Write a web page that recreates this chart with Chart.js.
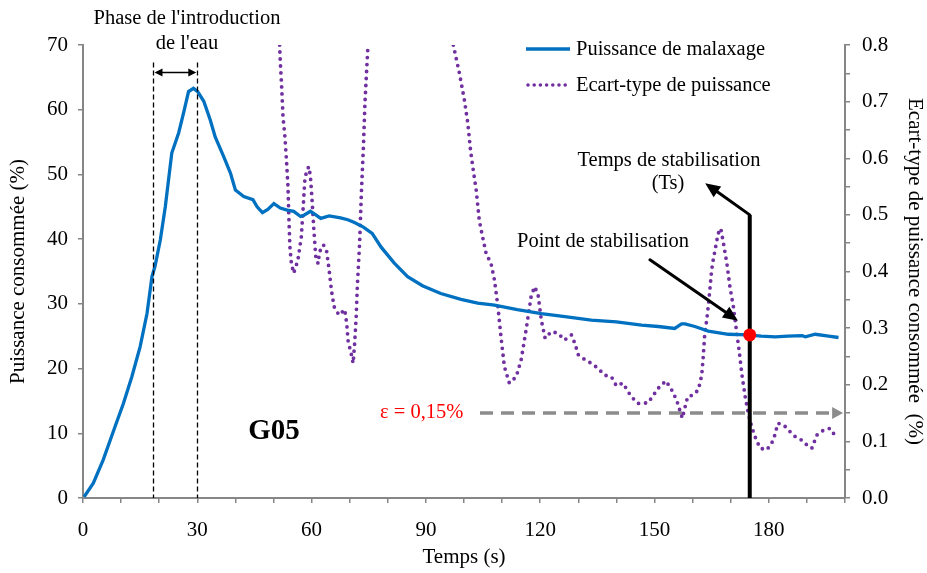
<!DOCTYPE html>
<html><head><meta charset="utf-8">
<script src="https://cdn.jsdelivr.net/npm/chart.js@4.4.1/dist/chart.umd.min.js"></script>
<style>html,body{margin:0;padding:0;background:#fff;} #wrap{width:927px;height:573px;}</style>
</head><body><div id="wrap"><canvas id="c" width="927" height="573"></canvas></div>
<script>
// ---- Data ----
const powerTime = [0.3,2.7,5.3,8.4,10.6,12.8,15.0,16.8,18.1,18.9,20.3,21.6,23.3,25.1,26.4,27.7,29.0,30.1,31.7,33.4,34.7,36.9,38.7,40.0,42.2,44.6,45.7,47.1,48.5,50.1,51.8,53.6,55.3,57.1,58.0,59.7,61.0,62.4,64.6,67.6,69.5,71.1,73.5,75.9,78.2,81.7,85.2,89.1,93.9,99.2,103.6,108.0,114.0,120.3,127.0,133.4,140.0,146.6,151.0,155.3,157.1,158.0,160.6,164.1,169.4,174.6,178.0,181.7,185.0,188.7,189.6,192.2,195.7,198.3];
const powerValue = [0.2,2.3,5.9,11.0,14.6,18.7,23.4,28.5,34.2,35.8,39.9,45.0,53.3,56.4,59.5,62.8,63.3,62.8,61.3,58.4,55.8,52.8,50.2,47.6,46.6,46.1,45.0,44.1,44.6,45.5,44.8,44.5,44.3,43.5,43.7,44.3,43.8,43.2,43.6,43.3,43.0,42.6,41.9,40.9,38.8,36.3,34.2,32.8,31.6,30.7,30.1,29.8,29.1,28.5,28.0,27.5,27.2,26.7,26.5,26.2,26.9,26.9,26.5,25.8,25.3,25.2,25.0,24.9,25.0,25.1,24.9,25.3,25.0,24.8];

const stdTime = [51.6,51.8,52.1,52.5,53.0,53.4,53.8,54.0,54.3,54.7,55.3,56.4,57.3,57.8,58.2,58.7,59.3,59.7,60.1,60.6,61.1,61.7,62.1,63.1,63.9,64.6,65.2,65.9,67.2,68.7,69.2,69.6,70.3,70.9,71.3,71.7,72.0,72.6,73.1,73.6,74.0,74.5,74.8,86.0,97.2,98.8,100.1,101.0,101.7,102.3,103.2,104.0,104.7,105.8,107.1,108.0,108.9,109.7,110.6,111.9,113.7,115.0,116.3,117.6,118.5,119.4,120.3,121.3,122.9,124.7,126.4,128.2,129.1,130.0,131.8,133.4,135.2,136.9,138.7,140.0,141.7,143.9,145.7,148.3,151.0,153.0,154.5,155.8,157.3,158.7,160.2,161.5,162.4,162.8,163.2,163.7,164.1,164.6,165.0,165.4,166.7,167.4,168.1,169.0,169.8,170.7,171.6,172.3,172.9,173.8,174.6,175.5,176.4,177.7,179.5,181.2,182.4,183.9,185.6,187.0,188.7,190.4,191.3,192.6,194.4,196.1,197.0,198.3];
const stdValue = [0.80,0.768,0.732,0.673,0.638,0.597,0.550,0.503,0.444,0.414,0.397,0.420,0.461,0.514,0.559,0.579,0.585,0.567,0.529,0.473,0.426,0.414,0.435,0.447,0.438,0.403,0.367,0.338,0.323,0.333,0.309,0.276,0.258,0.238,0.273,0.320,0.373,0.450,0.544,0.620,0.697,0.762,0.80,null,0.80,0.750,0.703,0.662,0.615,0.585,0.544,0.491,0.467,0.432,0.414,0.385,0.338,0.285,0.232,0.203,0.214,0.244,0.297,0.355,0.373,0.361,0.314,0.282,0.294,0.291,0.279,0.288,0.273,0.253,0.244,0.238,0.229,0.217,0.214,0.198,0.203,0.179,0.167,0.168,0.194,0.207,0.191,0.173,0.141,0.179,0.182,0.191,0.217,0.250,0.291,0.314,0.338,0.373,0.403,0.420,0.467,0.476,0.450,0.414,0.373,0.338,0.291,0.256,0.220,0.179,0.150,0.126,0.108,0.088,0.085,0.102,0.132,0.129,0.117,0.108,0.102,0.091,0.088,0.111,0.120,0.123,0.114,0.114];

const seriesNames = ['Puissance de malaxage', 'Ecart-type de puissance'];
const xTickLabels = ['0','30','60','90','120','150','180'];
const leftTickLabels = ['0','10','20','30','40','50','60','70'];
const rightTickLabels = ['0.0','0.1','0.2','0.3','0.4','0.5','0.6','0.7','0.8'];

// annotation values (data units)
const phaseStart = 18.5, phaseEnd = 30;
const stabTime = 175, stabPower = 25.2;
const epsilon = 0.15;

// ---- styling ----
const SERIF = '"Liberation Serif", "Times New Roman", serif';
const AXIS = '#868686';
const BLUE = '#0070C0';
const PURPLE = '#7030A0';

const powerData = powerTime.map((t, i) => ({x: t, y: powerValue[i]}));
const stdData = stdTime.map((t, i) => ({x: t, y: stdValue[i]}));

function arrowHead(ctx, x1, y1, x2, y2, len, hw) {
  const a = Math.atan2(y2 - y1, x2 - x1);
  ctx.beginPath();
  ctx.moveTo(x2, y2);
  ctx.lineTo(x2 - len * Math.cos(a) + hw * Math.sin(a), y2 - len * Math.sin(a) - hw * Math.cos(a));
  ctx.lineTo(x2 - len * Math.cos(a) - hw * Math.sin(a), y2 - len * Math.sin(a) + hw * Math.cos(a));
  ctx.closePath();
  ctx.fill();
}
function arrowLine(ctx, x1, y1, x2, y2, lw, len, hw, color) {
  const a = Math.atan2(y2 - y1, x2 - x1);
  ctx.save();
  ctx.strokeStyle = color; ctx.fillStyle = color; ctx.lineWidth = lw;
  ctx.beginPath();
  ctx.moveTo(x1, y1);
  ctx.lineTo(x2 - (len - 1) * Math.cos(a), y2 - (len - 1) * Math.sin(a));
  ctx.stroke();
  arrowHead(ctx, x1, y1, x2, y2, len, hw);
  ctx.restore();
}

const annot = {
  id: 'annot',
  beforeDatasetsDraw(chart) {
    const {ctx, scales: {x, y1}} = chart;
    const yy = y1.getPixelForValue(epsilon);
    const xs = x.getPixelForValue(104.2), xe = x.getPixelForValue(199.5);
    ctx.save();
    ctx.strokeStyle = '#8c8c8c'; ctx.fillStyle = '#8c8c8c';
    ctx.lineWidth = 3.5; ctx.setLineDash([13, 8]);
    ctx.beginPath(); ctx.moveTo(xs, yy); ctx.lineTo(xe - 10, yy); ctx.stroke();
    ctx.setLineDash([]);
    arrowHead(ctx, xs, yy, xe, yy, 11, 6);
    ctx.restore();
  },
  afterDatasetsDraw(chart) {
    const {ctx, scales: {x, y, y1}} = chart;
    ctx.save();
    ctx.strokeStyle = '#000'; ctx.lineWidth = 1.3; ctx.setLineDash([5, 3]);
    [phaseStart, phaseEnd].forEach(t => {
      const px = Math.round(x.getPixelForValue(t)) + 0.5;
      ctx.beginPath(); ctx.moveTo(px, y.getPixelForValue(67.3)); ctx.lineTo(px, y.getPixelForValue(0)); ctx.stroke();
    });
    ctx.setLineDash([]);
    const ay = y.getPixelForValue(65.75);
    const ax1 = x.getPixelForValue(phaseStart) + 1, ax2 = x.getPixelForValue(phaseEnd) - 1;
    ctx.lineWidth = 1.5; ctx.fillStyle = '#000';
    ctx.beginPath(); ctx.moveTo(ax1 + 5, ay); ctx.lineTo(ax2 - 5, ay); ctx.stroke();
    arrowHead(ctx, ax2, ay, ax1, ay, 8, 4);
    arrowHead(ctx, ax1, ay, ax2, ay, 8, 4);
    const sx = x.getPixelForValue(stabTime);
    const sTop = y1.getPixelForValue(0.5);
    ctx.lineWidth = 4;
    ctx.beginPath(); ctx.moveTo(sx, y1.getPixelForValue(0)); ctx.lineTo(sx, sTop); ctx.stroke();
    ctx.lineCap = 'round';
    arrowLine(ctx, sx, sTop, x.getPixelForValue(163.3), y1.getPixelForValue(0.556), 3, 15, 6.5, '#000');
    arrowLine(ctx, x.getPixelForValue(148.8), y.getPixelForValue(36.8), x.getPixelForValue(171.9), y.getPixelForValue(27.4), 3, 15, 6.5, '#000');
    ctx.fillStyle = '#ff0000';
    ctx.beginPath(); ctx.arc(sx, y.getPixelForValue(stabPower), 6.5, 0, Math.PI * 2); ctx.fill();
    ctx.restore();
  },
  afterDraw(chart) {
    const {ctx} = chart;
    ctx.save();
    ctx.fillStyle = '#000';
    ctx.textBaseline = 'middle';
    ctx.font = '20.5px ' + SERIF;
    ctx.textAlign = 'center';
    ctx.fillText("Phase de l'introduction", 187, 19);
    ctx.fillText("de l'eau", 187, 44);
    ctx.fillText('Temps de stabilisation', 669, 161);
    ctx.fillText('(Ts)', 668, 184);
    ctx.textAlign = 'left';
    ctx.fillText('Point de stabilisation', 517, 242);
    ctx.font = 'bold 29px ' + SERIF;
    ctx.textAlign = 'center';
    ctx.fillText('G05', 274, 432);
    ctx.font = '20.5px ' + SERIF;
    ctx.textAlign = 'left';
    ctx.fillStyle = '#ff0000';
    ctx.fillText('\u03B5 = 0,15%', 380, 413);
    ctx.fillStyle = '#000';
    ctx.fillText(seriesNames[0], 576, 50);
    ctx.fillText(seriesNames[1], 576, 86);
    ctx.strokeStyle = BLUE; ctx.lineWidth = 3.3;
    ctx.beginPath(); ctx.moveTo(526, 49); ctx.lineTo(570, 49); ctx.stroke();
    ctx.strokeStyle = PURPLE; ctx.lineWidth = 3.6; ctx.lineCap = 'round'; ctx.setLineDash([0, 6.2]);
    ctx.beginPath(); ctx.moveTo(528, 85); ctx.lineTo(570, 85); ctx.stroke();
    ctx.restore();
  }
};

const tickFont = {family: SERIF, size: 21};
const gridOpts = {drawOnChartArea: false, drawTicks: true, tickLength: 5, color: AXIS, lineWidth: 1.5};
const borderOpts = {color: AXIS, width: 2};

new Chart(document.getElementById('c'), {
  type: 'line',
  data: {
    datasets: [
      {label: seriesNames[0], data: powerData, yAxisID: 'y', borderColor: BLUE, borderWidth: 3.3,
       pointRadius: 0, tension: 0, fill: false},
      {label: seriesNames[1], data: stdData, yAxisID: 'y1', borderColor: PURPLE, borderWidth: 3.8,
       borderDash: [0, 7], borderCapStyle: 'round', pointRadius: 0, tension: 0, fill: false, spanGaps: false}
    ]
  },
  options: {
    responsive: false, animation: false, devicePixelRatio: 1,
    layout: {padding: {top: 45, left: 0, right: 0, bottom: 0}},
    plugins: {legend: {display: false}, tooltip: {enabled: false}},
    scales: {
      x: {
        type: 'linear', position: 'bottom', min: 0, max: 200,
        afterFit: s => { s.height = 75; },
        ticks: {stepSize: 10, autoSkip: false, maxRotation: 0, includeBounds: false, padding: 15,
          color: '#000', font: tickFont,
          callback: v => { const i = xTickLabels.indexOf(String(Math.round(v))); return (Math.abs(v % 30) < 1e-6 && i >= 0) ? xTickLabels[i] : ''; }},
        grid: gridOpts, border: borderOpts,
        title: {display: true, text: 'Temps (s)', color: '#000', font: tickFont, padding: {top: 0, bottom: 3}}
      },
      y: {
        position: 'left', min: 0, max: 70,
        afterFit: s => { s.width = 83; },
        ticks: {stepSize: 10, autoSkip: false, padding: 10, color: '#000', font: tickFont,
          callback: v => leftTickLabels[Math.round(v / 10)]},
        grid: gridOpts, border: borderOpts,
        title: {display: true, text: 'Puissance consommée (%)', color: '#000', font: tickFont, padding: {top: 6, bottom: 0}}
      },
      y1: {
        position: 'right', min: 0, max: 0.8,
        afterFit: s => { s.width = 82; },
        ticks: {stepSize: 0.05, autoSkip: false, padding: 12, color: '#000', font: tickFont,
          callback: v => { const k = Math.round(v * 100); return k % 10 === 0 ? rightTickLabels[k / 10] : ''; }},
        grid: gridOpts, border: borderOpts,
        title: {display: true, text: 'Ecart-type de puissance consommée  (%)', color: '#000', font: tickFont, padding: {top: 0, bottom: 0}}
      }
    }
  },
  plugins: [annot]
});
</script>
</body></html>
